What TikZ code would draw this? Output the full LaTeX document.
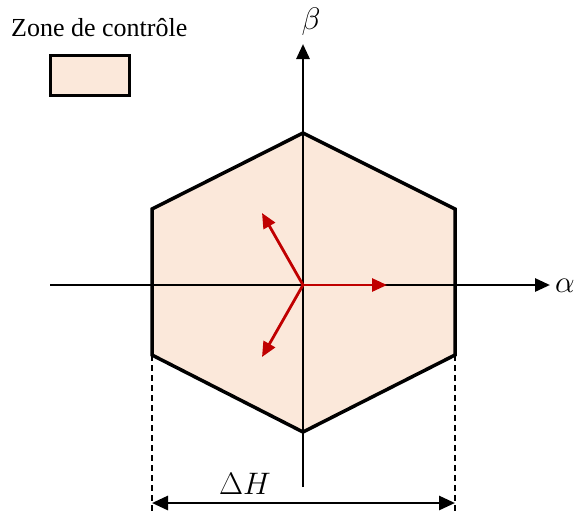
\documentclass[tikz,border=0pt]{standalone}
\usepackage{fontspec}
\setmainfont{Liberation Serif}
\usetikzlibrary{arrows.meta}
\definecolor{zone}{HTML}{FBE8DA}
\definecolor{vred}{HTML}{C00000}
\newcommand{\mymath}[1]{\scalebox{1.25}{$#1$}}
\begin{document}
\begin{tikzpicture}[x=1pt,y=-1pt,
  axis/.style={line width=2.8pt,-{Triangle[length=15pt,width=13pt]}},
  vec/.style={line width=2.8pt,vred,-{Triangle[length=15pt,width=13pt]}},
  hexa/.style={line width=3.5pt,fill=zone,line join=miter},
  dim/.style={line width=1.5pt,dash pattern=on 6pt off 4pt},
  lbl/.style={font=\fontsize{26}{30}\selectfont,inner sep=0pt},
  mlbl/.style={font=\fontsize{24}{28}\selectfont,inner sep=0pt}]
\useasboundingbox (0,0) rectangle (577,515);
% legend
\node[lbl,anchor=west] (legtxt) at (11,28) {Zone de contrôle};
\draw[line width=3pt,fill=zone] (50,55) rectangle (129,95);
% hexagon
\coordinate (T) at (303,133);
\coordinate (UR) at (455,209);
\coordinate (LR) at (455,355);
\coordinate (B) at (303,432);
\coordinate (LL) at (152,355);
\coordinate (UL) at (152,209);
\draw[hexa] (T) -- (UR) -- (LR) -- (B) -- (LL) -- (UL) -- cycle;
% axes
\coordinate (O) at (303,285);
\coordinate (xs) at (50,285);
\coordinate (xe) at (550,285);
\coordinate (ys) at (303,487);
\coordinate (ye) at (303,44);
\draw[axis] (xs) -- (xe);
\draw[axis] (ys) -- (ye);
\node[mlbl,anchor=east] (alpha) at (575,286) {\mymath{\alpha}};
\node[mlbl] (beta) at (311,22) {\mymath{\beta}};
% vectors
\coordinate (v1) at (387,285);
\coordinate (v2) at (262,213);
\coordinate (v3) at (262,357);
\draw[vec] (O) -- (v1);
\draw[vec] (O) -- (v2);
\draw[vec] (O) -- (v3);
% dimension
\coordinate (d1) at (152,514);
\coordinate (d2) at (455,514);
\draw[dim] (LL) -- (d1);
\draw[dim] (LR) -- (d2);
\coordinate (a1) at (152,503);
\coordinate (a2) at (455,503);
\draw[line width=2.8pt,{Triangle[length=16pt,width=14pt]}-{Triangle[length=16pt,width=14pt]}] (a1) -- (a2);
\node[mlbl] (dH) at (245,484) {\mymath{\Delta H}};
\end{tikzpicture}
\end{document}
